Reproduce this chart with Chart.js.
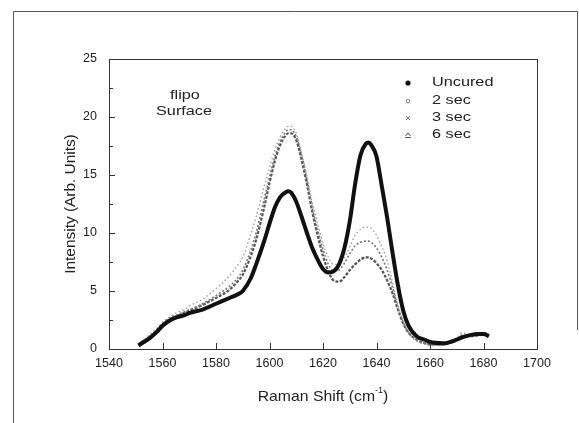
<!DOCTYPE html>
<html>
<head>
<meta charset="utf-8">
<script src="https://cdn.jsdelivr.net/npm/chart.js@4"></script>
<style>
  html, body { margin: 0; padding: 0; background: #fff; }
  #wrap { width: 579px; height: 423px; }
</style>
</head>
<body>
<div id="wrap"><canvas id="ramanChart" width="579" height="423"></canvas></div>
<script>
// Raman shift positions (cm-1) shared by all series
const ramanShift = [1551, 1553, 1555, 1558, 1560, 1563, 1565, 1568, 1570, 1575,
    1580, 1585, 1588, 1590, 1593, 1595, 1598, 1600, 1602, 1604,
    1606, 1607, 1608, 1610, 1612, 1614, 1616, 1618, 1620, 1622,
    1624, 1626, 1628, 1630, 1632, 1634, 1636, 1637, 1638, 1640,
    1642, 1644, 1646, 1648, 1650, 1652, 1655, 1658, 1660, 1665,
    1670, 1672, 1675, 1678, 1680, 1682];

const uncured = [0.3, 0.6, 0.9, 1.5, 2.0, 2.5, 2.7, 2.9, 3.1, 3.4,
    3.9, 4.4, 4.7, 5.0, 6.1, 7.3, 9.3, 10.8, 12.2, 13.1,
    13.5, 13.6, 13.5, 12.7, 11.4, 10.0, 8.7, 7.7, 6.9, 6.6,
    6.7, 7.3, 8.7, 11.0, 14.2, 16.7, 17.7, 17.8, 17.6, 16.6,
    14.0, 11.3, 8.3, 5.5, 3.3, 2.0, 1.1, 0.8, 0.6, 0.5,
    0.8, 1.0, 1.2, 1.3, 1.3, 1.1];

const sec2 = [0.4, 0.8, 1.2, 1.8, 2.3, 2.8, 3.1, 3.4, 3.7, 4.3,
    5.2, 6.3, 7.2, 7.9, 9.9, 11.4, 14.0, 15.6, 17.2, 18.3,
    19.0, 19.2, 19.2, 18.6, 16.9, 14.9, 12.6, 10.8, 9.1, 7.9,
    7.3, 7.3, 7.9, 8.8, 9.8, 10.3, 10.5, 10.5, 10.4, 9.8,
    8.8, 7.6, 5.7, 3.8, 2.4, 1.4, 0.7, 0.4, 0.3, 0.4,
    1.0, 1.4, 1.2, 1.2, 1.4, 1.2];

const sec3 = [0.4, 0.7, 1.1, 1.7, 2.2, 2.7, 2.9, 3.2, 3.4, 3.9,
    4.6, 5.4, 6.1, 6.8, 8.5, 10.0, 12.9, 14.8, 16.6, 17.9,
    18.7, 18.9, 18.9, 18.3, 16.7, 14.6, 12.2, 10.3, 8.6, 7.3,
    6.7, 6.8, 7.4, 8.2, 8.9, 9.2, 9.3, 9.3, 9.2, 8.7,
    7.9, 6.8, 5.3, 3.6, 2.3, 1.4, 0.8, 0.5, 0.4, 0.4,
    0.9, 1.2, 1.1, 1.2, 1.3, 1.1];

const sec6 = [0.4, 0.7, 1.0, 1.6, 2.1, 2.6, 2.8, 3.1, 3.3, 3.8,
    4.4, 5.1, 5.8, 6.4, 8.0, 9.4, 12.2, 14.3, 16.2, 17.6,
    18.4, 18.6, 18.6, 18.0, 16.3, 14.2, 11.8, 9.8, 8.0, 6.7,
    5.9, 5.8, 6.2, 6.8, 7.3, 7.7, 7.9, 7.9, 7.8, 7.4,
    6.8, 5.9, 4.8, 3.4, 2.2, 1.4, 0.8, 0.5, 0.4, 0.4,
    0.8, 1.1, 1.1, 1.2, 1.4, 1.2];

const seriesNames = ['Uncured', '2 sec', '3 sec', '6 sec'];
const xMajorTicks = [1540, 1560, 1580, 1600, 1620, 1640, 1660, 1680, 1700];
const yMajorTicks = [0, 5, 10, 15, 20, 25];
const yMinorTicks = [2.5, 7.5, 12.5, 17.5, 22.5];

const toPoints = values => values.map((v, i) => ({ x: ramanShift[i], y: v }));

// stretched text, the scan is wider than the fonts we have
function wideText(ctx, text, x, y, font, sx, align) {
    ctx.save();
    ctx.font = font;
    ctx.textAlign = align || 'left';
    ctx.textBaseline = 'middle';
    ctx.translate(x, y);
    ctx.scale(sx, 1);
    ctx.fillText(text, 0, 0);
    ctx.restore();
}

const decorations = {
    id: 'decorations',
    afterDraw(chart) {
        const ctx = chart.ctx;
        const area = chart.chartArea;
        const xs = chart.scales.x;
        const ys = chart.scales.y;
        ctx.save();
        ctx.fillStyle = '#222';
        ctx.lineWidth = 1;

        // outer frame (top, left, part of right)
        ctx.beginPath();
        ctx.moveTo(13.5, 423);
        ctx.lineTo(13.5, 11.5);
        ctx.lineTo(577.5, 11.5);
        ctx.lineTo(577.5, 330);
        ctx.strokeStyle = '#555';
        ctx.stroke();

        // plot box
        ctx.strokeStyle = '#333';
        ctx.strokeRect(Math.round(area.left) + 0.5, Math.round(area.top) + 0.5,
            Math.round(area.right - area.left), Math.round(area.bottom - area.top));

        // inward ticks
        ctx.beginPath();
        xMajorTicks.forEach(v => {
            const px = Math.round(xs.getPixelForValue(v)) + 0.5;
            ctx.moveTo(px, area.bottom);
            ctx.lineTo(px, area.bottom - 6);
        });
        yMajorTicks.forEach(v => {
            const py = Math.round(ys.getPixelForValue(v)) + 0.5;
            ctx.moveTo(area.left, py);
            ctx.lineTo(area.left + 6, py);
        });
        yMinorTicks.forEach(v => {
            const py = Math.round(ys.getPixelForValue(v)) + 0.5;
            ctx.moveTo(area.left, py);
            ctx.lineTo(area.left + 4, py);
        });
        ctx.stroke();

        // axis titles
        const font15 = '15px "Liberation Sans", Arial, sans-serif';
        const font9 = '9px "Liberation Sans", Arial, sans-serif';
        const xt = 'Raman Shift (cm';
        ctx.font = font15;
        const w1 = ctx.measureText(xt).width * 1.05;
        const w3 = ctx.measureText(')').width * 1.05;
        ctx.font = font9;
        const w2 = ctx.measureText('-1').width;
        const cx = (area.left + area.right) / 2;
        const sx = cx - (w1 + w2 + w3) / 2;
        wideText(ctx, xt, sx, 397, font15, 1.05);
        wideText(ctx, '-1', sx + w1, 391, font9, 1);
        wideText(ctx, ')', sx + w1 + w2, 397, font15, 1.05);

        ctx.save();
        ctx.translate(71, (area.top + area.bottom) / 2);
        ctx.rotate(-Math.PI / 2);
        wideText(ctx, 'Intensity (Arb. Units)', 0, 0, '14px "Liberation Sans", Arial, sans-serif', 1.1, 'center');
        ctx.restore();

        // annotation
        const font12 = '12.5px "Liberation Sans", Arial, sans-serif';
        wideText(ctx, 'flipo', 185, 96, font12, 1.3, 'center');
        wideText(ctx, 'Surface', 184, 112, font12, 1.3, 'center');

        // legend
        const rows = [83, 101, 118, 135];
        const mx = 408;
        seriesNames.forEach((name, i) => {
            wideText(ctx, name, 432, rows[i], font12, 1.3);
        });
        ctx.fillStyle = '#111';
        ctx.beginPath();
        ctx.arc(mx, rows[0], 2.6, 0, Math.PI * 2);
        ctx.fill();
        ctx.strokeStyle = '#888';
        ctx.beginPath();
        ctx.arc(mx, rows[1], 1.8, 0, Math.PI * 2);
        ctx.stroke();
        ctx.strokeStyle = '#777';
        ctx.beginPath();
        ctx.moveTo(mx - 2, rows[2] - 2); ctx.lineTo(mx + 2, rows[2] + 2);
        ctx.moveTo(mx + 2, rows[2] - 2); ctx.lineTo(mx - 2, rows[2] + 2);
        ctx.stroke();
        ctx.strokeStyle = '#555';
        ctx.beginPath();
        ctx.moveTo(mx - 2.5, rows[3] + 1); ctx.lineTo(mx, rows[3] - 2); ctx.lineTo(mx + 2.5, rows[3] + 1);
        ctx.moveTo(mx - 3, rows[3] + 2.5); ctx.lineTo(mx + 3, rows[3] + 2.5);
        ctx.stroke();

        ctx.restore();
    }
};

const tickFont = { family: '"Liberation Sans", Arial, sans-serif', size: 12.5 };

new Chart(document.getElementById('ramanChart'), {
    type: 'line',
    data: {
        datasets: [
            { label: seriesNames[0], data: toPoints(uncured), borderColor: '#111', borderWidth: 4, pointRadius: 0 },
            { label: seriesNames[1], data: toPoints(sec2), borderColor: '#9a9a9a', borderWidth: 1.3, borderDash: [1.5, 2.5], pointRadius: 0 },
            { label: seriesNames[2], data: toPoints(sec3), borderColor: '#777', borderWidth: 1.6, borderDash: [2, 2], pointRadius: 0 },
            { label: seriesNames[3], data: toPoints(sec6), borderColor: '#555', borderWidth: 2.2, borderDash: [3, 1.5], pointRadius: 0 }
        ]
    },
    options: {
        responsive: false,
        animation: false,
        events: [],
        layout: { padding: { top: 59, right: 42, left: 0, bottom: 0 } },
        elements: { line: { tension: 0.35, cubicInterpolationMode: 'monotone' } },
        plugins: { legend: { display: false }, tooltip: { enabled: false } },
        scales: {
            x: {
                type: 'linear',
                min: 1540,
                max: 1700,
                afterFit: s => { s.height = 74; },
                grid: { display: false, drawTicks: false },
                border: { display: false },
                ticks: {
                    stepSize: 20,
                    autoSkip: false,
                    maxRotation: 0,
                    padding: 7,
                    color: '#222',
                    font: tickFont,
                    callback: v => String(v)
                }
            },
            y: {
                min: 0,
                max: 25,
                afterFit: s => { s.width = 109; },
                grid: { display: false, drawTicks: false },
                border: { display: false },
                ticks: {
                    stepSize: 5,
                    padding: 12,
                    color: '#222',
                    font: tickFont,
                    callback: v => String(v)
                }
            }
        }
    },
    plugins: [decorations]
});
</script>
</body>
</html>
